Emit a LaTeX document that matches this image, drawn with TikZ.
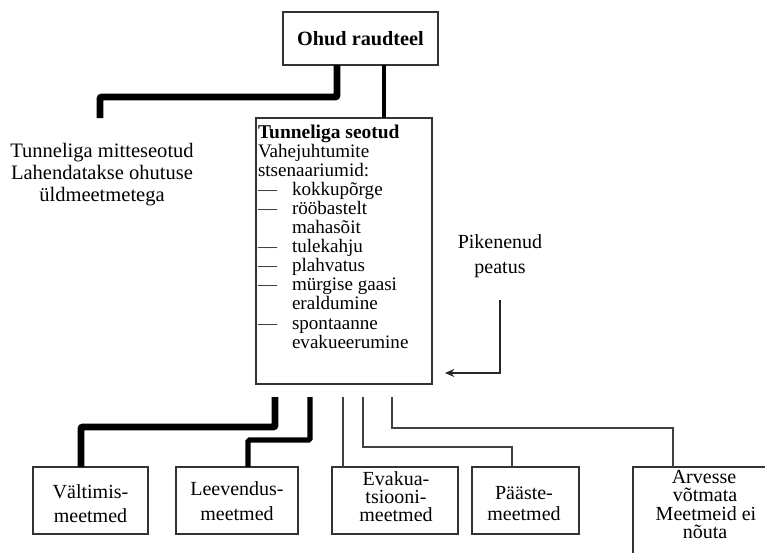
\documentclass[tikz,border=0pt]{standalone}
\usepackage{fontspec}
\setmainfont{Liberation Serif}
\usetikzlibrary{arrows.meta}
\def\u{0.75pt}
\tikzset{
  every node/.style={inner sep=0pt, outer sep=0pt},
  box/.style={draw=black!80, line width=1.6pt, rectangle, inner sep=0pt},
  txt/.style={font=\fontsize{15}{17}\selectfont, anchor=base},
  lft/.style={font=\fontsize{15.4}{17}\selectfont, anchor=base},
  lst/.style={font=\fontsize{14.3}{16}\selectfont, anchor=base west},
  dsh/.style={font=\fontsize{14.3}{16}\selectfont, anchor=base west, text=black!80},
  heavy/.style={line width=5.2pt, rounded corners=1.5pt},
  medium/.style={line width=3.8pt, rounded corners=1pt},
  slim/.style={line width=3pt},
  hair/.style={line width=1.5pt, draw=black!75},
  arr/.style={line width=1.8pt, draw=black!85, -{Stealth[length=7pt,width=6pt]}},
}
\begin{document}
\begin{tikzpicture}[x=0.75pt,y=-0.75pt]
\useasboundingbox (0,0) rectangle (765,553);

% top box
\node[box, minimum width=155*\u, minimum height=53*\u,
      font=\bfseries\fontsize{15.2}{17}\selectfont] (top) at (360.5,38.5) {Ohud raudteel};

% left text
\node[lft] (l1) at (102,157) {Tunneliga mitteseotud};
\node[lft] (l2) at (102,179) {Lahendatakse ohutuse};
\node[lft] (l3) at (102,201) {üldmeetmetega};
\coordinate (lt) at (100,118);

% middle box
\node[box, minimum width=176*\u, minimum height=266*\u] (mid) at (344,251) {};
\node[lst, font=\bfseries\fontsize{14.6}{16}\selectfont] (m1) at (258,138) {Tunneliga seotud};
\node[lst] (m2)  at (258,157.1) {Vahejuhtumite};
\node[lst] (m3)  at (258,176.2) {stsenaariumid:};
\node[lst] (m4)  at (292,195.3) {kokkupõrge};
\node[lst] (m5)  at (292,214.4) {rööbastelt};
\node[lst] (m6)  at (292,233.5) {mahasõit};
\node[lst] (m7)  at (292,252.6) {tulekahju};
\node[lst] (m8)  at (292,271.7) {plahvatus};
\node[lst] (m9)  at (292,290.8) {mürgise gaasi};
\node[lst] (m10) at (292,309.9) {eraldumine};
\node[lst] (m11) at (292,329.0) {spontaanne};
\node[lst] (m12) at (292,348.1) {evakueerumine};
\node[dsh] (d4)  at (258,195.3) {—};
\node[dsh] (d5)  at (258,214.4) {—};
\node[dsh] (d7)  at (258,252.6) {—};
\node[dsh] (d8)  at (258,271.7) {—};
\node[dsh] (d9)  at (258,290.8) {—};
\node[dsh] (d11) at (258,329.0) {—};

% Pikenenud peatus
\node[txt] (p1) at (500,248) {Pikenenud};
\node[txt] (p2) at (500,273) {peatus};
\coordinate (a0) at (500,300);
\coordinate (ae) at (445,373);

% bottom boxes
\node[box, minimum width=115*\u, minimum height=67*\u] (b1) at (90.5,500.5) {};
\node[box, minimum width=122*\u, minimum height=67*\u] (b2) at (237,500.5) {};
\node[box, minimum width=126*\u, minimum height=67*\u] (b3) at (395,500.5) {};
\node[box, minimum width=107*\u, minimum height=67*\u] (b4) at (525.5,500.5) {};
\coordinate (b5) at (633,467);
\coordinate (b5c) at (673,467);
\draw[box] (633,553) -- (b5) -- (765,467);

\node[txt] (t11) at (90.5,498) {Vältimis-};
\node[txt] (t12) at (90.5,522) {meetmed};
\node[txt] (t21) at (237,495) {Leevendus-};
\node[txt] (t22) at (237,520) {meetmed};
\node[txt] (t31) at (396,485) {Evakua-};
\node[txt] (t32) at (396,503) {tsiooni-};
\node[txt] (t33) at (396,521) {meetmed};
\node[txt] (t41) at (524,499) {Pääste-};
\node[txt] (t42) at (524,520) {meetmed};
\node[txt] (t51) at (704,483) {Arvesse};
\node[txt] (t52) at (705,501.5) {võtmata};
\node[txt] (t53) at (706,520) {Meetmeid ei};
\node[txt] (t54) at (705,538) {nõuta};

% connectors from top
\draw[heavy] ([xshift=54*\u]top.south west) -- ++(0,32) -| (lt);
\draw[slim] ([xshift=101*\u]top.south west) -- ([xshift=128*\u]mid.north west);

% connectors to bottom
\coordinate (s1) at (275,397);
\coordinate (s2) at (310,397);
\coordinate (s3) at (343,397);
\coordinate (s4) at (363,397);
\coordinate (s5) at (392,397);
\draw[heavy] (s1) -- ++(0,30) -| ([xshift=48*\u]b1.north west);
\draw[medium] (s2) -- ++(0,43) -| ([xshift=72*\u]b2.north west);
\draw[hair] (s3) -- ([xshift=11*\u]b3.north west);
\draw[hair] (s4) -- ++(0,50) -| ([xshift=40*\u]b4.north west);
\draw[hair] (s5) -- ++(0,31) -| (b5c);

% arrow
\draw[arr] (a0) |- (ae);
\end{tikzpicture}
\end{document}
